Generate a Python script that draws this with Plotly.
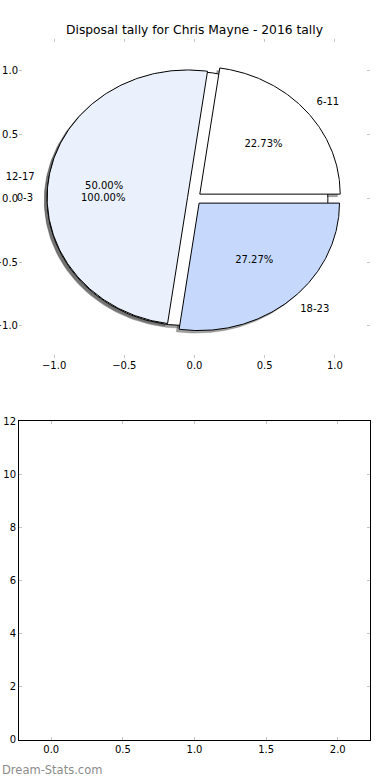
import numpy as np
import plotly.graph_objects as go

# ---------------- data ----------------
title_text = "Disposal tally for Chris Mayne - 2016 tally"
base_labels = ["0-3"]
base_values = [1]
range_labels = ["6-11", "12-17", "18-23"]
range_values = [5, 11, 6]
slice_colors = ["#ffffff", "#eaf1fd", "#c6d9fd"]
pie_ticks = [-1.0, -0.5, 0.0, 0.5, 1.0]
bottom_xticks = [0.0, 0.5, 1.0, 1.5, 2.0]
bottom_yticks = [0, 2, 4, 6, 8, 10, 12]
watermark = "Dream-Stats.com"

EXPLODE = 0.05
SHADOW = 0.02
FONT = "DejaVu Sans"

fig = go.Figure()


def wedges(values):
    total = float(sum(values))
    out = []
    t1 = 0.0
    for v in values:
        frac = v / total
        t2 = t1 + 360.0 * frac
        tm = np.deg2rad((t1 + t2) / 2.0)
        cx, cy = EXPLODE * np.cos(tm), EXPLODE * np.sin(tm)
        th = np.deg2rad(np.linspace(t1, t2, 200))
        if frac >= 1.0:
            xs = cx + np.cos(th)
            ys = cy + np.sin(th)
        else:
            xs = np.concatenate([[cx], cx + np.cos(th), [cx]])
            ys = np.concatenate([[cy], cy + np.sin(th), [cy]])
        out.append(dict(xs=xs, ys=ys, tm=tm, frac=frac))
        t1 = t2
    return out


pies = [(base_labels, wedges(base_values)), (range_labels, wedges(range_values))]

# shadows first (below all wedges)
for labels, ws in pies:
    for i, w in enumerate(ws):
        fig.add_trace(go.Scatter(
            x=w["xs"] - SHADOW, y=w["ys"] - SHADOW, mode="lines", fill="toself",
            fillcolor="rgba(70,70,72,0.5)", line=dict(width=0.5, color="rgba(70,70,72,0.5)"),
            hoverinfo="skip", showlegend=False, xaxis="x", yaxis="y"))

# wedges
for labels, ws in pies:
    for i, w in enumerate(ws):
        fig.add_trace(go.Scatter(
            x=w["xs"], y=w["ys"], mode="lines", fill="toself",
            fillcolor=slice_colors[i % len(slice_colors)],
            line=dict(width=1, color="black"),
            hoverinfo="skip", showlegend=False, xaxis="x", yaxis="y"))

# texts
for labels, ws in pies:
    for lab, w in zip(labels, ws):
        lx = (1.1 + EXPLODE) * np.cos(w["tm"])
        ly = (1.1 + EXPLODE) * np.sin(w["tm"])
        fig.add_trace(go.Scatter(
            x=[lx], y=[ly], mode="text", text=[lab], cliponaxis=False,
            textposition="middle right" if lx > 0 else "middle left",
            textfont=dict(family=FONT, size=10, color="black"),
            hoverinfo="skip", showlegend=False, xaxis="x", yaxis="y"))
        px_ = (0.6 + EXPLODE) * np.cos(w["tm"])
        py_ = (0.6 + EXPLODE) * np.sin(w["tm"])
        fig.add_trace(go.Scatter(
            x=[px_], y=[py_], mode="text", text=["%.2f%%" % (w["frac"] * 100)],
            textposition="middle center", cliponaxis=False,
            textfont=dict(family=FONT, size=10, color="black"),
            hoverinfo="skip", showlegend=False, xaxis="x", yaxis="y"))

# empty bottom axes
fig.add_trace(go.Scatter(x=[], y=[], mode="markers", showlegend=False,
                         xaxis="x2", yaxis="y2"))

tick_common = dict(ticks="inside", ticklen=3, tickwidth=1, tickcolor="#c4c4c4",
                   showgrid=False, zeroline=False, automargin=False,
                   tickfont=dict(family=FONT, size=10, color="black"))

fig.update_layout(
    width=390, height=780,
    margin=dict(l=19, r=20, t=39, b=40),
    paper_bgcolor="white", plot_bgcolor="rgba(0,0,0,0)",
    showlegend=False,
    xaxis=dict(domain=[0, 1], anchor="y", range=[-1.25, 1.25],
               tickvals=pie_ticks, tickformat=".1f", showline=False,
               mirror="ticks", **tick_common),
    yaxis=dict(domain=[0.5455, 1], anchor="x", range=[-1.25, 1.25],
               tickvals=pie_ticks, tickformat=".1f", showline=False,
               mirror="ticks", **tick_common),
    xaxis2=dict(domain=[0, 1], anchor="y2", range=[-0.225, 2.225],
                tickvals=bottom_xticks, tickformat=".1f", showline=True,
                linecolor="black", linewidth=1, mirror="ticks", **tick_common),
    yaxis2=dict(domain=[0, 0.4546], anchor="x2", range=[0, 12],
                tickvals=bottom_yticks, tickformat="d", showline=True,
                linecolor="black", linewidth=1, mirror="ticks", **tick_common),
    annotations=[
        dict(text=title_text, xref="paper", yref="paper", x=0.5, y=1,
             xanchor="center", yanchor="bottom", yshift=0, showarrow=False,
             font=dict(family=FONT, size=12.3, color="black")),
        dict(text=watermark, xref="paper", yref="paper", x=0, y=0,
             xanchor="left", yanchor="middle", xshift=-19, yshift=-30,
             showarrow=False,
             font=dict(family=FONT, size=11.5, color="#8c8c8c")),
    ],
)

fig.write_html("out.html", config={"displayModeBar": False},
               post_script="document.body.style.margin='0';document.body.style.padding='0';")
